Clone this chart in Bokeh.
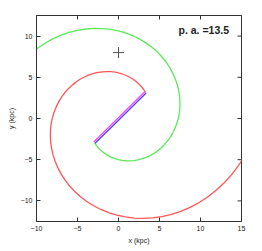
import math
from bokeh.plotting import figure
from bokeh.models import Range1d, FixedTicker
from bokeh.core.properties import value
from bokeh.embed import file_html
from bokeh.resources import INLINE

# Red spiral arm (kpc)
red_x = [3.29, 3.06, 2.8, 2.51, 2.18, 1.82, 1.43, 1.01, 0.56, 0.1, -0.39, -0.9, -1.42, -1.95, -2.49,
         -3.03, -3.57, -4.11, -4.63, -5.14, -5.62, -6.08, -6.51, -6.91, -7.26, -7.57, -7.84, -8.04,
         -8.2, -8.29, -8.31, -8.27, -8.16, -7.98, -7.72, -7.39, -6.99, -6.51, -5.96, -5.33, -4.63,
         -3.87, -3.04, -2.15, -1.2, -0.2, 0.84, 1.91, 3.02, 4.15, 5.3, 6.45, 7.6, 8.73, 9.84, 10.92,
         11.95, 12.93, 13.85, 14.69, 15.44]
red_y = [3.17, 3.52, 3.86, 4.17, 4.47, 4.74, 4.98, 5.19, 5.37, 5.52, 5.62, 5.68, 5.7, 5.67, 5.6,
         5.47, 5.3, 5.07, 4.79, 4.46, 4.08, 3.65, 3.18, 2.65, 2.08, 1.47, 0.82, 0.14, -0.57, -1.31,
         -2.07, -2.85, -3.63, -4.42, -5.21, -5.99, -6.75, -7.49, -8.2, -8.87, -9.5, -10.07, -10.59,
         -11.04, -11.43, -11.73, -11.95, -12.08, -12.12, -12.06, -11.9, -11.64, -11.26, -10.78,
         -10.19, -9.49, -8.68, -7.77, -6.75, -5.64, -4.43]
# Green spiral arm (kpc)
green_x = [-2.93, -2.72, -2.48, -2.2, -1.9, -1.57, -1.22, -0.83, -0.43, 0.0, 0.44, 0.91, 1.38, 1.86,
           2.35, 2.83, 3.32, 3.8, 4.27, 4.72, 5.16, 5.57, 5.95, 6.3, 6.61, 6.88, 7.11, 7.29, 7.42,
           7.49, 7.5, 7.45, 7.34, 7.16, 6.91, 6.6, 6.22, 5.78, 5.26, 4.69, 4.04, 3.34, 2.58, 1.77,
           0.91, 0.0, -0.95, -1.92, -2.93, -3.95, -4.99, -6.03, -7.06, -8.08, -9.07, -10.04, -10.96]
green_y = [-2.93, -3.24, -3.54, -3.82, -4.08, -4.32, -4.53, -4.72, -4.88, -5.0, -5.09, -5.13, -5.14,
           -5.11, -5.03, -4.91, -4.74, -4.53, -4.27, -3.96, -3.61, -3.21, -2.77, -2.29, -1.77, -1.21,
           -0.62, 0.0, 0.65, 1.32, 2.01, 2.71, 3.42, 4.13, 4.84, 5.54, 6.22, 6.89, 7.52, 8.12, 8.67,
           9.18, 9.64, 10.04, 10.37, 10.63, 10.81, 10.91, 10.93, 10.86, 10.7, 10.44, 10.08, 9.63,
           9.07, 8.42, 7.68]
# Bar (two parallel lines)
bar_blue_x = [-2.85, 3.37]
bar_blue_y = [-3.01, 3.09]
bar_mag_x = [-3.01, 3.21]
bar_mag_y = [-2.85, 3.25]
# Cross marker
cross_x = [0.0]
cross_y = [8.0]
label_text = ["p. a. =13.5"]
x_ticks = [-10, -5, 0, 5, 10, 15]
y_ticks = [-10, -5, 0, 5, 10]
x_lim = (-10, 15)
y_lim = (-12.5, 12.5)

FONT = "Liberation Sans"
DARK = "#333333"
TXT = "#222222"

p = figure(width=258, height=248, output_backend="svg", toolbar_location=None,
           x_range=Range1d(*x_lim), y_range=Range1d(*y_lim),
           min_border_left=36, min_border_right=17, min_border_top=15, min_border_bottom=27)
p.background_fill_color = "white"
p.border_fill_color = "white"
p.outline_line_color = DARK
p.outline_line_width = 1
p.grid.visible = False

for ax, ticks in ((p.xaxis[0], x_ticks), (p.yaxis[0], y_ticks)):
    ax.ticker = FixedTicker(ticks=ticks)
    ax.major_tick_in = 4
    ax.major_tick_out = 0
    ax.minor_tick_in = 0
    ax.minor_tick_out = 0
    ax.axis_line_color = DARK
    ax.major_tick_line_color = DARK
    ax.major_label_text_font = FONT
    ax.major_label_text_color = TXT
    ax.major_label_text_font_size = "7px"
    ax.major_label_standoff = 4
    ax.axis_label_text_font = FONT
    ax.axis_label_text_font_style = "normal"
    ax.axis_label_text_color = TXT
    ax.axis_label_text_font_size = "7px"
p.xaxis[0].axis_label = "x (kpc)"
p.yaxis[0].axis_label = "y (kpc)"
p.xaxis[0].axis_label_standoff = 3
p.yaxis[0].axis_label_standoff = 3

# mirrored inward ticks on the top and right edges (half of each dash is clipped by the frame)
p.scatter(x=[x_lim[1]] * len(y_ticks), y=y_ticks, marker="dash", size=8,
          line_color=DARK, line_width=1)
p.scatter(x=x_ticks, y=[y_lim[1]] * len(x_ticks), marker="dash", size=8, angle=math.pi / 2,
          line_color=DARK, line_width=1)

p.line(red_x, red_y, line_color="#ff5555", line_width=1.3)
p.line(green_x, green_y, line_color="#5aea5a", line_width=1.3)
p.line(bar_mag_x, bar_mag_y, line_color="#ff40ff", line_width=1.3)
p.line(bar_blue_x, bar_blue_y, line_color="#4848ff", line_width=1.3)
p.scatter(cross_x, cross_y, marker="cross", size=11, line_color="#555555", line_width=1)
p.text(x=[7.32], y=[10.75], text=label_text, text_font=value(FONT),
       text_font_size="10.5px", text_font_style="bold", text_color=TXT,
       text_align="left", text_baseline="middle")

open("out.html", "w").write(file_html(p, INLINE))
